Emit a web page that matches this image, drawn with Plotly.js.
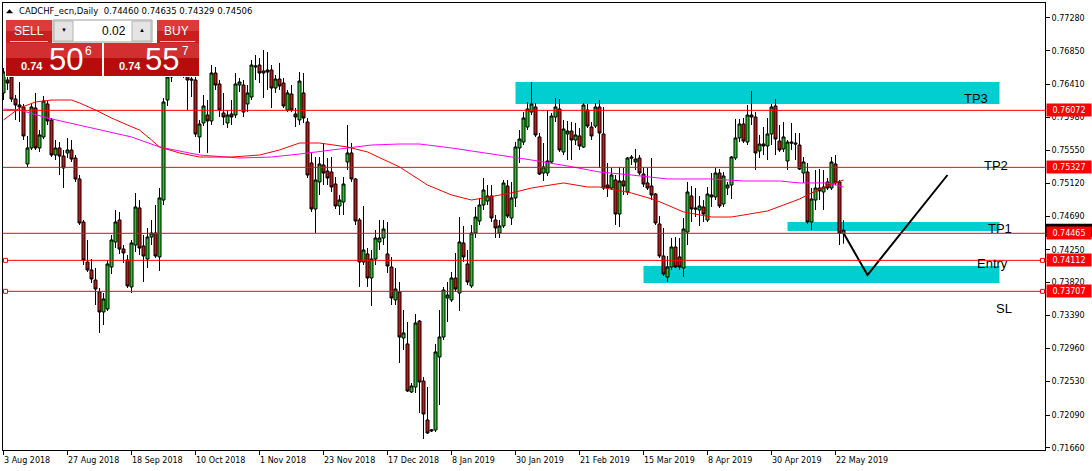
<!DOCTYPE html>
<html><head><meta charset="utf-8">
<script src="https://cdn.plot.ly/plotly-3.0.1.min.js"></script>
<style>html,body{margin:0;padding:0;background:#fff;}#chart{width:1092px;height:471px;}</style>
</head><body><div id="chart"></div>
<script>
// ---- data (CADCHF_ecn, Daily) ----
const open = [0.76299,0.76468,0.76508,0.76220,0.76142,0.76116,0.75371,0.75580,0.76103,0.75580,
0.75724,0.76155,0.75946,0.75488,0.75580,0.75475,0.75515,0.75554,0.75449,0.75175,
0.74613,0.74090,0.73986,0.73855,0.73698,0.73437,0.73476,0.74025,0.74352,0.74639,
0.74260,0.74116,0.73764,0.74312,0.74796,0.74299,0.74129,0.74417,0.74469,0.74156,
0.74900,0.76207,0.76508,0.76730,0.76795,0.76664,0.76573,0.76481,0.76468,0.75724,
0.75907,0.76011,0.75933,0.76560,0.76416,0.76037,0.75907,0.76024,0.76011,0.76403,
0.76403,0.76155,0.76246,0.76638,0.76664,0.76560,0.76599,0.76599,0.76364,0.76481,
0.76429,0.76076,0.76285,0.76024,0.75946,0.76299,0.75920,0.75384,0.74783,0.75136,
0.75358,0.75279,0.75266,0.75109,0.74822,0.74874,0.75397,0.75515,0.75175,0.74639,
0.74090,0.74195,0.73881,0.74129,0.74352,0.74404,0.74195,0.74025,0.73594,0.73698,
0.73097,0.73019,0.72392,0.72457,0.73319,0.72535,0.72026,0.71882,0.71895,0.72849,
0.73110,0.73620,0.73594,0.73881,0.73685,0.74339,0.74064,0.73777,0.74469,0.74626,
0.74835,0.74887,0.74953,0.74639,0.74469,0.74561,0.75083,0.74665,0.74927,0.75580,
0.75658,0.75854,0.76050,0.76116,0.75724,0.75253,0.75253,0.75397,0.75985,0.76089,
0.75528,0.75763,0.75802,0.75684,0.75737,0.75593,0.76076,0.75854,0.75867,0.76116,
0.75763,0.75096,0.75057,0.75162,0.74717,0.75149,0.75005,0.75462,0.75397,0.75449,
0.75240,0.75123,0.75083,0.74979,0.74587,0.74169,0.73894,0.74025,0.74286,0.74156,
0.74012,0.74482,0.74953,0.74796,0.74770,0.74809,0.74639,0.74966,0.74940,0.75253,
0.74848,0.75057,0.75096,0.75449,0.75711,0.75893,0.75658,0.76011,0.75985,0.75541,
0.75632,0.75606,0.75763,0.76129,0.75671,0.75567,0.75410,0.75658,0.75645,0.75619,
0.75253,0.75266,0.74613,0.74900,0.75057,0.75005,0.75136,0.75057,0.75371,0.75136,
0.74460];
const high = [0.76625,0.76534,0.76573,0.76272,0.76442,0.76155,0.75737,0.76155,0.76299,0.75815,
0.76259,0.76207,0.75972,0.75684,0.75658,0.75554,0.75711,0.75684,0.75488,0.75227,
0.74639,0.74378,0.74129,0.74012,0.73751,0.73685,0.74116,0.74443,0.74770,0.74744,
0.74312,0.74182,0.74378,0.74992,0.74900,0.74443,0.74535,0.74639,0.74835,0.75057,
0.76233,0.76534,0.76860,0.76926,0.76887,0.76756,0.76704,0.76521,0.76599,0.75946,
0.76272,0.76207,0.76664,0.76638,0.76468,0.76299,0.76076,0.76207,0.76560,0.76495,
0.76468,0.76403,0.76730,0.76795,0.76756,0.76860,0.76834,0.76664,0.76534,0.76691,
0.76495,0.76338,0.76403,0.76103,0.76573,0.76560,0.75972,0.75515,0.75462,0.75462,
0.75645,0.75449,0.75462,0.75201,0.74966,0.75201,0.75880,0.75645,0.75188,0.74665,
0.74822,0.74273,0.74247,0.74508,0.74639,0.74639,0.74613,0.74156,0.74012,0.73829,
0.73463,0.73306,0.72509,0.73411,0.73332,0.72588,0.72457,0.71908,0.73019,0.73463,
0.73764,0.73829,0.73960,0.74208,0.74678,0.74561,0.74247,0.74574,0.74809,0.74927,
0.75188,0.75096,0.75096,0.74704,0.74639,0.75162,0.75162,0.75136,0.75658,0.75815,
0.76050,0.76181,0.76442,0.76168,0.75776,0.75645,0.76076,0.76037,0.76233,0.76220,
0.75946,0.75933,0.75920,0.75907,0.75841,0.76168,0.76155,0.75920,0.76168,0.76207,
0.76116,0.75384,0.75319,0.75227,0.75332,0.75319,0.75462,0.75488,0.75567,0.75488,
0.75319,0.75319,0.75449,0.74992,0.74691,0.74535,0.74169,0.74404,0.74417,0.74404,
0.74665,0.75136,0.75083,0.75057,0.74953,0.74900,0.75070,0.75253,0.75319,0.75305,
0.75266,0.75136,0.75475,0.75959,0.75959,0.75972,0.76142,0.76325,0.76050,0.75750,
0.75854,0.75972,0.76155,0.76220,0.75880,0.75920,0.75684,0.75907,0.75776,0.75776,
0.75462,0.75384,0.75057,0.75292,0.75305,0.75292,0.75188,0.75462,0.75488,0.75162,
0.74635];
const low = [0.76207,0.76338,0.76181,0.75946,0.75920,0.75684,0.75332,0.75554,0.75554,0.75528,
0.75697,0.75880,0.75462,0.75423,0.75227,0.75057,0.75449,0.75397,0.75136,0.74574,
0.74051,0.73960,0.73816,0.73528,0.73163,0.73267,0.73450,0.73933,0.74273,0.74195,
0.74077,0.73751,0.73685,0.74221,0.74182,0.73829,0.74012,0.74312,0.74143,0.73973,
0.74835,0.76129,0.76442,0.76625,0.76573,0.76495,0.76076,0.76246,0.75724,0.75515,
0.75867,0.75515,0.75880,0.76338,0.75985,0.75880,0.75841,0.75880,0.75972,0.76312,
0.75985,0.76050,0.76207,0.76468,0.76429,0.76233,0.76338,0.76103,0.76299,0.76338,
0.76103,0.76050,0.76050,0.75854,0.75880,0.75907,0.75188,0.74744,0.74469,0.74966,
0.75096,0.75096,0.75005,0.74783,0.74704,0.74704,0.75292,0.75136,0.74574,0.73764,
0.74051,0.73764,0.73515,0.74051,0.74247,0.74312,0.73947,0.73528,0.73528,0.72771,
0.72940,0.72392,0.72379,0.72379,0.72117,0.71777,0.71843,0.71869,0.71869,0.72222,
0.73071,0.73306,0.73568,0.73698,0.73450,0.74090,0.73790,0.73751,0.74404,0.74574,
0.74770,0.74835,0.74613,0.74404,0.74404,0.74535,0.74665,0.74574,0.74809,0.75384,
0.75619,0.75815,0.76011,0.75724,0.75227,0.75149,0.75214,0.75384,0.75920,0.75528,
0.75488,0.75423,0.75423,0.75619,0.75554,0.75580,0.75841,0.75684,0.75841,0.75319,
0.75031,0.74940,0.75031,0.74574,0.74548,0.74966,0.74966,0.75358,0.75292,0.75227,
0.75070,0.75031,0.74900,0.74574,0.74143,0.73907,0.73829,0.73986,0.74012,0.73986,
0.73894,0.74312,0.74613,0.74678,0.74561,0.74613,0.74613,0.74809,0.74900,0.74796,
0.74809,0.74966,0.74913,0.75423,0.75658,0.75645,0.75619,0.75880,0.75292,0.75449,
0.75488,0.75423,0.75619,0.75488,0.75528,0.75528,0.75292,0.75554,0.75423,0.75292,
0.75123,0.74587,0.74508,0.74770,0.74900,0.74770,0.75031,0.75031,0.75096,0.74312,
0.74329];
const close = [0.76573,0.76429,0.76220,0.76142,0.76116,0.75737,0.75580,0.76116,0.75580,0.75750,
0.76194,0.75933,0.75488,0.75580,0.75475,0.75319,0.75554,0.75436,0.75175,0.74600,
0.74116,0.73986,0.73868,0.73737,0.73437,0.73607,0.74064,0.74378,0.74613,0.74260,
0.74208,0.73777,0.74339,0.74809,0.74273,0.74169,0.74417,0.74469,0.74169,0.74927,
0.76181,0.76508,0.76730,0.76795,0.76664,0.76573,0.76468,0.76468,0.75763,0.75893,
0.76129,0.75933,0.76560,0.76403,0.76076,0.75985,0.76011,0.75985,0.76416,0.76442,
0.76050,0.76299,0.76664,0.76651,0.76560,0.76586,0.76573,0.76364,0.76481,0.76390,
0.76129,0.76299,0.76076,0.75985,0.76455,0.75972,0.75227,0.74783,0.75162,0.75371,
0.75253,0.75188,0.75070,0.74822,0.74900,0.75109,0.75515,0.75175,0.74626,0.74090,
0.74247,0.73881,0.74129,0.74404,0.74404,0.74521,0.74038,0.73620,0.73737,0.73110,
0.73163,0.72405,0.72470,0.73293,0.72522,0.72104,0.71856,0.71895,0.72914,0.73110,
0.73724,0.73659,0.73881,0.73737,0.74352,0.74156,0.73829,0.74469,0.74678,0.74835,
0.75031,0.74953,0.74665,0.74535,0.74561,0.75123,0.74691,0.74927,0.75593,0.75697,
0.75972,0.76089,0.76155,0.75750,0.75240,0.75332,0.75410,0.75998,0.76116,0.75554,
0.75828,0.75802,0.75684,0.75750,0.75606,0.76142,0.75867,0.75737,0.76116,0.75776,
0.75057,0.75057,0.75227,0.74717,0.75149,0.75083,0.75449,0.75449,0.75436,0.75253,
0.75109,0.75057,0.74966,0.74600,0.74169,0.73933,0.74025,0.74286,0.74025,0.74025,
0.74521,0.75005,0.74783,0.74783,0.74822,0.74717,0.74979,0.74940,0.75253,0.74822,
0.75214,0.75096,0.75462,0.75711,0.75893,0.75671,0.76011,0.75985,0.75515,0.75632,
0.75606,0.75763,0.76116,0.75697,0.75554,0.75724,0.75658,0.75645,0.75632,0.75305,
0.75397,0.74613,0.74913,0.75057,0.75018,0.75070,0.75057,0.75397,0.75123,0.74469,
0.74506];

const dateTickBars = [0,16,32,48,64,80,96,112,128,144,160,176,192,208];
const dateTickLabels = ['3 Aug 2018','27 Aug 2018','18 Sep 2018','10 Oct 2018','1 Nov 2018','23 Nov 2018',
  '17 Dec 2018','8 Jan 2019','30 Jan 2019','21 Feb 2019','15 Mar 2019','8 Apr 2019','30 Apr 2019','22 May 2019'];
const priceTicks = [0.77280,0.76850,0.76410,0.75980,0.75550,0.75120,0.74690,0.74250,0.73820,0.73390,0.72960,0.72530,0.72090,0.71660];

// moving averages (read at sampled bars)
const maFastBars = [0,4,8,12,17,19,23,27,31,34,37,39,44,49,57,64,69,74,79,86,91,99,106,112,117,124,127,132,140,146,149,157,163,170,177,182,187,191,195,199,202,207,210];
const maFastVals = [0.75946,0.76103,0.76181,0.76207,0.76207,0.76168,0.76076,0.75972,0.75880,0.75815,0.75684,0.75593,0.75515,0.75462,0.75462,0.75488,0.75554,0.75645,0.75645,0.75593,0.75528,0.75332,0.75096,0.74966,0.74900,0.74966,0.74992,0.75057,0.75123,0.75070,0.75070,0.74992,0.74900,0.74744,0.74678,0.74678,0.74717,0.74757,0.74835,0.74913,0.74992,0.75109,0.75162];
const maSlowBars = [0,4,11,19,24,32,39,49,59,67,74,86,92,99,104,112,124,132,141,149,157,166,177,185,194,199,206,210];
const maSlowVals = [0.76089,0.76076,0.75972,0.75880,0.75815,0.75724,0.75593,0.75488,0.75449,0.75462,0.75501,0.75580,0.75619,0.75632,0.75632,0.75580,0.75488,0.75423,0.75345,0.75266,0.75227,0.75175,0.75175,0.75149,0.75149,0.75123,0.75123,0.75070];

// trade levels, zones and drawn path
const levels = [0.76072,0.75327,0.74465,0.74112,0.73707];
const levelNames = ['TP3','TP2','TP1','Entry','SL'];
const handleLevels = [0.74112,0.73707];
const zoneStart = [128,160,196];
const zoneEnd = [249,249,249];
const zoneLow = [0.76155,0.73816,0.74495];
const zoneHigh = [0.76443,0.74038,0.74613];
const pathBars = [210,216,236];
const pathPrices = [0.74469,0.73920,0.75227];
const symbolName = 'CADCHF_ecn,Daily';
const lotSize = '0.02';
const bidParts = ['0.74','50','6'];
const askParts = ['0.74','55','7'];

// ---- drawing ----
const barIndex = open.map((_, i) => i);
const last = open.length - 1;
const PL = 3, PR = 1045, PT = 3, PB = 450;
const fx = p => (p - PL) / (PR - PL);
const fy = p => (PB - p) / (PB - PT);

const traces = [
  {type:'scatter', mode:'lines', x:maSlowBars, y:maSlowVals, line:{color:'#ff00ff', width:1}, hoverinfo:'skip'},
  {type:'scatter', mode:'lines', x:maFastBars, y:maFastVals, line:{color:'#ff0000', width:1}, hoverinfo:'skip'},
  {type:'candlestick', x:barIndex, open:open, high:high, low:low, close:close,
   increasing:{line:{color:'#000000', width:1}, fillcolor:'#22c822'},
   decreasing:{line:{color:'#000000', width:1}, fillcolor:'#d01414'},
   whiskerwidth:0, hoverinfo:'skip'},
  {type:'scatter', mode:'lines', x:pathBars, y:pathPrices, line:{color:'#000000', width:2}, hoverinfo:'skip'}
];

const shapes = [];
zoneStart.forEach((s, i) => shapes.push({type:'rect', xref:'x', yref:'y', x0:s, x1:zoneEnd[i], y0:zoneLow[i], y1:zoneHigh[i],
  fillcolor:'#00ced1', line:{width:0}, layer:'below'}));
levels.forEach(v => shapes.push({type:'line', xref:'paper', yref:'y', x0:0, x1:1, y0:v, y1:v, line:{color:'#ff0000', width:1}, layer:'above'}));
handleLevels.forEach(v => {
  [[0.5,4.5],[-4.5,-0.5]].forEach((xx, k) => shapes.push({type:'rect', xref:'paper', yref:'y', xsizemode:'pixel', ysizemode:'pixel',
    xanchor:k === 0 ? 0 : 1, yanchor:v, x0:xx[0], x1:xx[1], y0:-2, y1:2, fillcolor:'#ffffff', line:{color:'#ff0000', width:1}, layer:'above'}));
});
// bid price marker on the axis (mostly hidden under the TP1 tag)
shapes.push({type:'rect', xref:'paper', yref:'y', xsizemode:'pixel', ysizemode:'pixel', xanchor:fx(1046), yanchor:close[last],
  x0:0, x1:46, y0:-6.5, y1:6.5, fillcolor:'#000000', line:{width:0}, layer:'above'});
function prect(x0, y0, x1, y1, fill, lc, lw) {
  return {type:'rect', xref:'paper', yref:'paper', x0:fx(x0), x1:fx(x1), y0:fy(y1), y1:fy(y0),
    fillcolor:fill, line:{color:lc || fill, width:lw || 0}, layer:'above'};
}
function pline(x0, y0, x1, y1, c) {
  return {type:'line', xref:'paper', yref:'paper', x0:fx(x0), x1:fx(x1), y0:fy(y0), y1:fy(y1), line:{color:c, width:1}, layer:'above'};
}
// one-click trading panel
shapes.push(prect(5, 19, 200, 77, '#ffffff'));
shapes.push(prect(6, 20, 52, 31, '#dc3b3b'));
shapes.push(prect(6, 31, 52, 43, '#c81f1f'));
shapes.push(pline(10, 41.5, 48, 41.5, '#f4c0c0'));
shapes.push(prect(53, 20, 152, 42, '#ffffff', '#9c9c9c', 1));
shapes.push(prect(54, 21, 73, 41, '#e4e4e4', '#b4b4b4', 1));
shapes.push(prect(132, 21, 151, 41, '#e4e4e4', '#b4b4b4', 1));
shapes.push(prect(157, 20, 199, 31, '#dc3b3b'));
shapes.push(prect(157, 31, 199, 43, '#c81f1f'));
shapes.push(pline(160, 41.5, 195, 41.5, '#f4c0c0'));
shapes.push(prect(6, 43, 102, 58, '#d23030'));
shapes.push(prect(6, 58, 102, 76, '#b70c0c'));
shapes.push(prect(104, 43, 199, 58, '#d23030'));
shapes.push(prect(104, 58, 199, 76, '#b70c0c'));
// header triangle
shapes.push({type:'path', xref:'paper', yref:'paper',
  path:`M ${fx(6.5)} ${fy(13)} L ${fx(12.5)} ${fy(13)} L ${fx(9.5)} ${fy(9.5)} Z`, fillcolor:'#000', line:{color:'#000', width:0.5}, layer:'above'});

const annotations = [];
const F = 'DejaVu Sans, Verdana, sans-serif';
dateTickBars.forEach((b, i) => annotations.push({xref:'x', yref:'paper', x:b, y:fy(460.5), xanchor:'left', yanchor:'middle', xshift:-2,
  text:dateTickLabels[i], showarrow:false, font:{family:F, size:8, color:'#000'}}));
// level price tags
const tag = (v, bg) => ({xref:'paper', yref:'y', x:fx(1046), y:v, xanchor:'left', yanchor:'middle', text:v.toFixed(5), showarrow:false,
  bgcolor:bg, width:44, height:12, borderpad:0, align:'center', font:{family:F, size:8, color:'#ffffff'}});
levels.forEach(v => annotations.push(tag(v, '#ff0000')));
// level names
const namePos = [[990, 98, 'right'], [982, 165, 'left'], [986, 228, 'left'], [975, 264, 'left'], [994, 308, 'left']];
levelNames.forEach((n, i) => annotations.push({xref:'paper', yref:'paper', x:fx(namePos[i][0]), y:fy(namePos[i][1]), xanchor:namePos[i][2], yanchor:'middle',
  text:n, showarrow:false, font:{family:'Liberation Sans, Arial, sans-serif', size:13, color:'#000'}}));
// header
annotations.push({xref:'paper', yref:'paper', x:fx(16.5), y:fy(11), xanchor:'left', yanchor:'middle', showarrow:false,
  text:symbolName + '\u00a0\u00a0' + [open[last], high[last], low[last], close[last]].map(v => v.toFixed(5)).join('\u00a0'),
  font:{family:F, size:8.5, color:'#000'}});
// panel texts
const pt = (x, y, t, size, color, anchor, bold) => annotations.push({xref:'paper', yref:'paper', x:fx(x), y:fy(y), xanchor:anchor || 'center', yanchor:'middle',
  text:bold ? '<b>' + t + '</b>' : t, showarrow:false, font:{family:'Liberation Sans, Arial, sans-serif', size:size, color:color}});
pt(29, 31, 'SELL', 12, '#ffffff');
pt(176, 31, 'BUY', 12, '#ffffff');
pt(128, 30.5, lotSize, 12, '#000000', 'right');
pt(63.5, 30, '\u25BC', 6, '#000000');
pt(141.5, 30, '\u25B2', 6, '#000000');
pt(31.5, 65.5, bidParts[0], 11, '#ffffff', 'center', true);
pt(65.5, 59, bidParts[1], 31, '#ffffff');
pt(88.5, 51, bidParts[2], 12, '#ffffff');
pt(130, 65.5, askParts[0], 11, '#ffffff', 'center', true);
pt(162, 59, askParts[1], 31, '#ffffff');
pt(185.5, 51, askParts[2], 12, '#ffffff');

const layout = {
  width:1092, height:471, margin:{l:PL, r:1092 - PR, t:PT, b:471 - PB, pad:0},
  paper_bgcolor:'#ffffff', plot_bgcolor:'#ffffff', showlegend:false,
  boxgap:0.25, boxgroupgap:0,
  xaxis:{range:[-0.125, 260.375], showgrid:false, zeroline:false, showline:true, mirror:true, linecolor:'#000', linewidth:1,
    ticks:'outside', ticklen:4, tickcolor:'#000', tickvals:dateTickBars, showticklabels:false, rangeslider:{visible:false}, fixedrange:true},
  yaxis:{range:[0.716336, 0.774745], side:'right', showgrid:false, zeroline:false, showline:true, mirror:true, linecolor:'#000', linewidth:1,
    ticks:'outside', ticklen:4, tickcolor:'#000', tickvals:priceTicks, ticktext:priceTicks.map(v => v.toFixed(5)),
    tickfont:{family:F, size:8, color:'#000'}, fixedrange:true, automargin:false},
  shapes:shapes, annotations:annotations
};
Plotly.newPlot('chart', traces, layout, {staticPlot:true, displayModeBar:false});
</script>
</body></html>
